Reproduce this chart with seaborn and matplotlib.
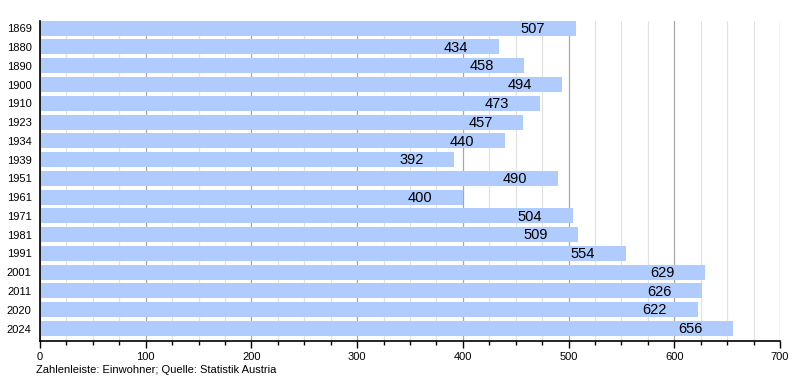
import matplotlib
matplotlib.use("Agg")
import matplotlib.pyplot as plt
import pandas as pd
import seaborn as sns
from matplotlib.ticker import MultipleLocator

years = ["1869", "1880", "1890", "1900", "1910", "1923", "1934", "1939", "1951",
         "1961", "1971", "1981", "1991", "2001", "2011", "2020", "2024"]
population = [507, 434, 458, 494, 473, 457, 440, 392, 490,
              400, 504, 509, 554, 629, 626, 622, 656]

df = pd.DataFrame({"Jahr": years, "Einwohner": population})

sns.set_theme(style="white")
plt.rcParams["font.family"] = ["Liberation Sans", "DejaVu Sans"]
plt.rcParams["text.color"] = "black"
plt.rcParams["xtick.color"] = "black"
plt.rcParams["ytick.color"] = "black"

fig = plt.figure(figsize=(8, 3.8), dpi=100)
ax = fig.add_axes([0.05, 0.1034, 0.925, 0.8421])

sns.barplot(data=df, x="Einwohner", y="Jahr", orient="h", color="#b0ccff",
            saturation=1, width=0.8, linewidth=0, ax=ax, zorder=2)

ax.set_xlim(0, 700)
ax.set_ylim(16.65, -0.4)
ax.xaxis.set_major_locator(MultipleLocator(100))
ax.xaxis.set_minor_locator(MultipleLocator(25))
ax.grid(axis="x", which="major", color="#a8a8a8", linewidth=0.9, zorder=0)
ax.grid(axis="x", which="minor", color="#e2e2e2", linewidth=0.9, zorder=0)
ax.set_axisbelow(True)

for side in ["top", "right"]:
    ax.spines[side].set_visible(False)
for side in ["left", "bottom"]:
    ax.spines[side].set_color("black")
    ax.spines[side].set_linewidth(1.2)

ax.tick_params(axis="x", which="major", bottom=True, length=5, width=1,
               color="black", labelcolor="black", labelsize=8, pad=3)
ax.tick_params(axis="x", which="minor", bottom=True, length=3, width=1, color="black")
ax.tick_params(axis="y", left=False, length=0, labelcolor="black", labelsize=8, pad=6)
ax.set_xlabel("")
ax.set_ylabel("")

for i, v in enumerate(population):
    ax.annotate(str(v), xy=(v, i), xytext=(-22, -0.5), textcoords="offset points",
                ha="right", va="center", fontsize=10.5, color="black", zorder=3)

fig.text(0.045, 0.012, "Zahlenleiste: Einwohner; Quelle: Statistik Austria",
         fontsize=8, color="black", ha="left", va="bottom")

fig.savefig("out.png", dpi=100)
